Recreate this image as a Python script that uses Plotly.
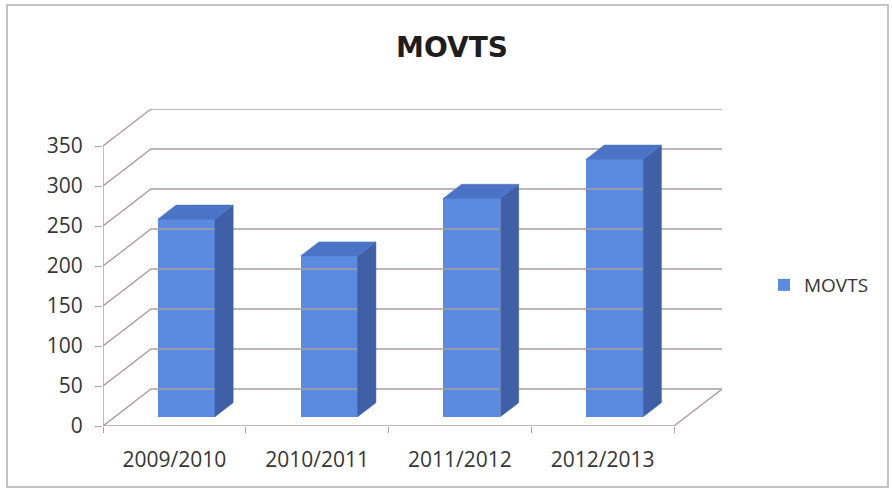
import plotly.graph_objects as go

# ---- data ----
categories = ["2009/2010", "2010/2011", "2011/2012", "2012/2013"]
values = [247, 201, 273, 322]
y_ticks = [0, 50, 100, 150, 200, 250, 300, 350]
series_name = "MOVTS"
title_text = "MOVTS"

# ---- geometry (3D oblique emulation) ----
W, H = 892, 490
L_PX, R_PX, T_PX, B_PX = 103, 722, 109, 426   # plot area in pixels
X_FRONT = len(categories)                        # front floor spans 0..n
DX_PX, DY_PX = 48, 37                           # back-wall offset in pixels
y_top = max(y_ticks)
ppu_x = (R_PX - L_PX - DX_PX) / X_FRONT
DXU = DX_PX / ppu_x
ppu_y = (B_PX - T_PX - DY_PX) / y_top
DYU = DY_PX / ppu_y
F0 = 0.25      # bar front plane depth fraction
DEPTH = 0.38   # bar depth fraction
BW = 0.40      # bar width (category units)

grid_col = "#aaa0a0"
front_col = "#5b8be0"
side_col = "#3f5fa6"
top_col = "#4b74c6"
text_col = "#363636"

fig = go.Figure()

# gridlines: front diagonal + back wall line for each tick
gx, gy = [], []
for v in y_ticks:
    gx += [0, DXU, X_FRONT + DXU, None]
    gy += [v, v + DYU, v + DYU, None]
# floor front edge and right diagonal
gx += [0, X_FRONT, X_FRONT + DXU, None]
gy += [0, 0, DYU, None]
# front vertical axis line
gx += [0, 0, None]
gy += [0, y_top, None]
fig.add_trace(go.Scatter(x=gx, y=gy, mode="lines", line=dict(color=grid_col, width=1.4),
                         hoverinfo="skip", showlegend=False))

# side and top faces
sx, sy, tx, ty = [], [], [], []
ddx, ddy = DEPTH * DXU, DEPTH * DYU
for i, v in enumerate(values):
    cx = i + 0.5 + F0 * DXU
    xl, xr = cx - BW / 2, cx + BW / 2
    b = F0 * DYU
    top = b + v
    sx += [xr, xr + ddx, xr + ddx, xr, xr, None]
    sy += [b, b + ddy, top + ddy, top, b, None]
    tx += [xl, xl + ddx, xr + ddx, xr, xl, None]
    ty += [top, top + ddy, top + ddy, top, top, None]
fig.add_trace(go.Scatter(x=sx, y=sy, mode="lines", fill="toself", fillcolor=side_col,
                         line=dict(color=side_col, width=0.5), hoverinfo="skip", showlegend=False))
fig.add_trace(go.Scatter(x=tx, y=ty, mode="lines", fill="toself", fillcolor=top_col,
                         line=dict(color=top_col, width=0.5), hoverinfo="skip", showlegend=False))

# front faces
fig.add_trace(go.Bar(
    x=[i + 0.5 + F0 * DXU for i in range(len(categories))],
    y=values, base=F0 * DYU, width=BW, name=series_name,
    marker=dict(color=front_col, line=dict(width=0)),
    customdata=categories, hovertemplate="%{customdata}: %{y}<extra></extra>",
))

fig.update_layout(
    width=W, height=H,
    margin=dict(l=L_PX, r=W - R_PX, t=T_PX, b=H - B_PX, pad=0),
    paper_bgcolor="white", plot_bgcolor="white",
    font=dict(family="Open Sans", color=text_col),
    title=dict(text="<b>" + title_text + "</b>", x=452 / W, xref="container", xanchor="center",
               y=1 - 47 / H, yref="container", yanchor="middle",
               font=dict(family="DejaVu Sans", size=28, color="#1e1e1e")),
    xaxis=dict(range=[0, X_FRONT + DXU], showgrid=False, zeroline=False, showline=False,
               tickvals=[i + 0.5 for i in range(len(categories))], ticktext=categories,
               ticks="", tickfont=dict(size=21, color=text_col), ticklabelstandoff=19,
               minor=dict(tickvals=list(range(len(categories) + 1)), ticks="outside",
                          ticklen=6, tickcolor=grid_col, tickwidth=1.4),
               fixedrange=True),
    yaxis=dict(range=[0, y_top + DYU], showgrid=False, zeroline=False, showline=False,
               tickvals=y_ticks, ticks="outside", ticklen=7, tickcolor=grid_col, tickwidth=1.4,
               tickfont=dict(size=21, color=text_col), ticklabelstandoff=8, fixedrange=True),
    showlegend=True,
    legend=dict(xref="container", yref="container", x=764 / W, y=1 - 285 / H,
                xanchor="left", yanchor="middle", font=dict(size=19, color=text_col),
                bgcolor="rgba(0,0,0,0)"),
    bargap=0,
)

# chart border
def px2paper_x(p):
    return (p - L_PX) / (R_PX - L_PX)

def px2paper_y(p):
    return (B_PX - p) / (B_PX - T_PX)

fig.add_shape(type="rect", xref="paper", yref="paper",
              x0=px2paper_x(7), x1=px2paper_x(888), y0=px2paper_y(487), y1=px2paper_y(5),
              line=dict(color="#c4c4c4", width=2), layer="below")

fig.write_html("out.html", config={"displayModeBar": False},
               post_script="document.body.style.margin='0';")
